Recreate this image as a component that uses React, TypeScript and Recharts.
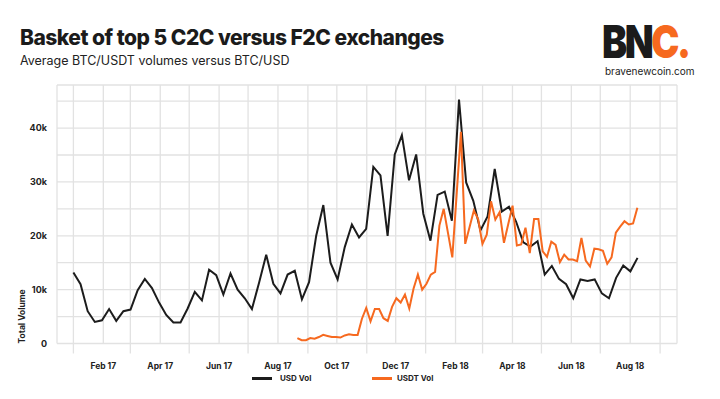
import React from 'react';
import { LineChart, Line, XAxis, YAxis, CartesianGrid } from 'recharts';

const MONTHS = ['Jan', 'Feb', 'Mar', 'Apr', 'May', 'Jun', 'Jul', 'Aug', 'Sep', 'Oct', 'Nov', 'Dec'];

// weekly-ish USD volume (k), first point early Jan 2017
const usdVol = [
  13.2, 11.0, 6.0, 4.0, 4.3, 6.4, 4.2, 6.0, 6.3, 9.9,
  12.0, 10.3, 7.6, 5.3, 3.9, 3.9, 6.5, 9.6, 8.0, 13.7,
  12.7, 9.1, 13.0, 10.0, 8.4, 6.4, 11.3, 16.5, 11.1, 9.3,
  12.8, 13.5, 8.2, 11.4, 20.0, 25.7, 15.0, 11.9, 17.9, 22.1,
  19.7, 21.3, 32.8, 31.2, 20.0, 35.1, 38.7, 30.3, 35.1, 24.1,
  19.1, 27.6, 28.2, 22.8, 45.3, 29.9, 26.5, 21.0, 23.6, 32.4,
  24.5, 25.4, 22.6, 18.8, 18.0, 19.0, 12.8, 14.4, 12.0, 11.0,
  8.4, 11.9, 11.6, 11.9, 9.3, 8.4, 12.2, 14.5, 13.4, 15.9,
];

// USDT volume (k), starts late Aug 2017
const usdtVol = [
  1.0, 0.6, 0.6, 1.0, 0.9, 1.2, 1.6, 1.4, 1.2, 1.2,
  1.1, 1.5, 1.7, 1.6, 1.6, 4.6, 6.6, 4.1, 6.4, 6.4,
  4.7, 4.2, 6.8, 8.4, 7.6, 9.1, 6.5, 10.2, 12.8, 10.0,
  11.1, 12.8, 13.3, 21.9, 25.0, 20.5, 16.0, 27.6, 39.3, 18.5,
  21.6, 24.7, 23.1, 18.5, 20.2, 26.4, 23.0, 24.4, 18.7, 22.2,
  25.6, 18.2, 18.4, 21.5, 16.8, 23.1, 23.1, 17.1, 16.1, 18.9,
  18.3, 15.1, 16.5, 15.6, 15.6, 15.3, 19.6, 15.4, 14.3, 17.6,
  17.5, 17.2, 14.8, 16.0, 20.6, 21.7, 22.7, 22.1, 22.3, 25.2,
];

// days since 1 Jan 2017
const USD_START = 0;
const USD_STEP = 7.4;
const USDT_START = 232.1;
const USDT_STEP = 4.46;

const yTicks = [0, 5, 10, 15, 20, 25, 30, 35, 40, 45];

const DAY = 86400000;
const BASE = Date.UTC(2017, 0, 1);
const monthTicks = Array.from({ length: 21 }, (_, m) => (Date.UTC(2017, m, 1) - BASE) / DAY);

const usdData = usdVol.map((v, i) => ({ day: USD_START + i * USD_STEP, usd: v }));
const usdtData = usdtVol.map((v, i) => ({ day: USDT_START + i * USDT_STEP, usdt: v }));

const GRID = '#e2e2e2';
const ORANGE = '#f6691f';
const FONT = 'Inter, "Noto Sans", sans-serif';

const XTick = (props: any) => {
  const { x, y, payload } = props;
  const d = new Date(BASE + payload.value * DAY);
  const m = d.getUTCMonth();
  if (m % 2 === 1) {
    return (
      <text x={x} y={y + 25} textAnchor="middle" fontSize={8.5} fontWeight={700} fill="#222" fontFamily={FONT}>
        {MONTHS[m]} {String(d.getUTCFullYear()).slice(2)}
      </text>
    );
  }
  return <line x1={x} x2={x} y1={y} y2={y + 10} stroke={GRID} strokeWidth={1.3} />;
};

const VolumeLabel = (props: any) => {
  const { viewBox } = props;
  const x = viewBox.x + 25;
  const y = viewBox.y + viewBox.height;
  return (
    <text x={x} y={y} transform={`rotate(-90 ${x} ${y})`} fontSize={8.5} fontWeight={700} fill="#222" fontFamily={FONT}>
      Total Volume
    </text>
  );
};

export default function App() {
  return (
    <div style={{ position: 'absolute', left: 0, top: 0, width: 720, height: 399, background: '#fff', overflow: 'hidden', fontFamily: FONT, color: '#1b1b1b' }}>
      <div style={{ position: 'absolute', left: 20, top: 25, fontSize: 21, fontWeight: 800, letterSpacing: -0.5, whiteSpace: 'nowrap' }}>
        Basket of top 5 C2C versus F2C exchanges
      </div>
      <div style={{ position: 'absolute', left: 20, top: 53, fontSize: 12.5, whiteSpace: 'nowrap', color: '#222' }}>
        Average BTC/USDT volumes versus BTC/USD
      </div>
      <div style={{ position: 'absolute', left: 602, top: 21, fontSize: 46, fontWeight: 900, letterSpacing: -3, lineHeight: '40px', whiteSpace: 'nowrap', transform: 'scaleX(0.82)', transformOrigin: 'left top' }}>
        BN<span style={{ color: ORANGE }}>C.</span>
      </div>
      <div style={{ position: 'absolute', left: 605, top: 65, fontSize: 10, lineHeight: '12px', whiteSpace: 'nowrap', color: '#222' }}>
        bravenewcoin.com
      </div>

      <LineChart width={720} height={399} margin={{ top: 85, right: 43, bottom: 25.5, left: 0 }}>
        <CartesianGrid stroke={GRID} strokeWidth={1.3} />
        <XAxis
          type="number"
          dataKey="day"
          domain={[-17, 625.5]}
          ticks={monthTicks}
          interval={0}
          allowDataOverflow
          axisLine={false}
          tickLine={false}
          tickSize={0}
          tickMargin={0}
          height={30}
          tick={<XTick />}
        />
        <YAxis
          type="number"
          domain={[0, 48]}
          ticks={yTicks}
          interval={0}
          width={57}
          axisLine={false}
          tickLine={false}
          tickSize={0}
          tickMargin={10}
          tickFormatter={(v: number) => (v % 10 === 0 ? (v === 0 ? '0' : `${v}k`) : '')}
          tick={{ fontSize: 9, fontWeight: 700, fill: '#222', fontFamily: FONT }}
          label={<VolumeLabel />}
        />
        <Line data={usdData} dataKey="usd" name="USD Vol" type="linear" stroke="#1c1c1c" strokeWidth={2} dot={false} isAnimationActive={false} />
        <Line data={usdtData} dataKey="usdt" name="USDT Vol" type="linear" stroke={ORANGE} strokeWidth={2} dot={false} isAnimationActive={false} />
      </LineChart>

      <div style={{ position: 'absolute', left: 252, top: 377, width: 20, height: 2.5, background: '#1c1c1c' }} />
      <div style={{ position: 'absolute', left: 280, top: 373, fontSize: 8, fontWeight: 700, color: '#222' }}>USD Vol</div>
      <div style={{ position: 'absolute', left: 372, top: 377, width: 20, height: 2.5, background: ORANGE }} />
      <div style={{ position: 'absolute', left: 397, top: 373, fontSize: 8, fontWeight: 700, color: '#222' }}>USDT Vol</div>
    </div>
  );
}
